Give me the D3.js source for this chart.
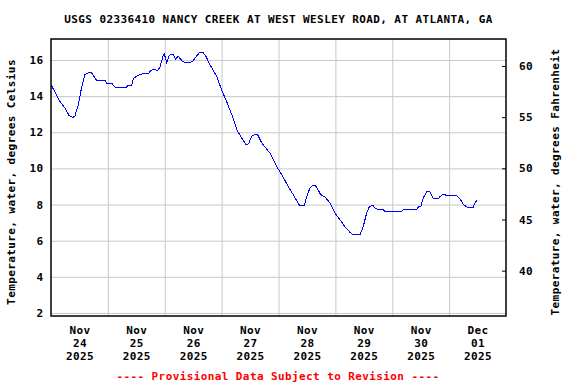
<!DOCTYPE html>
<html>
<head>
<meta charset="utf-8">
<script src="https://cdn.jsdelivr.net/npm/d3@7"></script>
<style>
  body { margin: 0; background: #fff; }
  text { font-family: "DejaVu Sans Mono", monospace; font-weight: bold; font-size: 11px; letter-spacing: 0.4px; }
</style>
</head>
<body>
<svg id="fig" width="576" height="384"></svg>
<script>
// readings: hours after 2025-11-24 00:00 and water temperature in deg C
const hoursAfterStart = [0, 3.8, 5.9, 7.7, 9.2, 10.1, 11.5, 13.0, 14.3, 16.2, 17.2, 18.6, 19.3, 22.8, 23.5, 25.6,
    27.0, 31.9, 32.6, 34.1, 34.7, 36.4, 38.9, 41.1, 41.8, 43.5, 44.9, 46.0, 47.4, 47.8, 48.8, 49.9,
    51.4, 52.6, 53.7, 55.6, 57.9, 59.8, 61.5, 62.9, 64.0, 65.4, 67.1, 69.9, 72.0, 74.1, 76.3, 78.4,
    80.5, 82.3, 83.3, 84.7, 86.1, 87.1, 88.9, 91.0, 92.4, 95.2, 97.4, 100.1, 102.2, 104.4, 105.1, 106.9,
    107.9, 109.3, 110.4, 111.4, 112.8, 113.8, 115.6, 117.7, 119.8, 121.9, 124.1, 126.2, 127.6, 130.4,
    131.8, 133.2, 134.3, 135.8, 136.7, 138.1, 140.2, 140.9, 148.0, 148.7, 154.3, 155.0, 156.0, 157.1,
    158.5, 159.9, 161.1, 162.0, 163.4, 164.2, 165.8, 167.0, 171.2, 172.6, 174.0, 176.1, 178.0, 178.9, 179.6];
const tempC = [14.63, 13.7, 13.34, 12.91, 12.82, 12.9, 13.52, 14.54, 15.18, 15.33, 15.28, 15.0, 14.87, 14.87, 14.72, 14.72,
    14.5, 14.5, 14.6, 14.6, 14.96, 15.13, 15.24, 15.24, 15.37, 15.5, 15.4, 15.6, 16.29, 16.34, 15.86, 16.25,
    16.33, 16.05, 16.2, 15.9, 15.83, 15.92, 16.23, 16.44, 16.44, 16.2, 15.73, 15.09, 14.35, 13.7, 12.97, 12.14,
    11.68, 11.31, 11.35, 11.77, 11.9, 11.88, 11.41, 11.07, 10.85, 10.11, 9.65, 9.0, 8.55, 8.05, 7.94, 7.94,
    8.45, 8.92, 9.08, 9.08, 8.79, 8.55, 8.42, 8.09, 7.54, 7.17, 6.76, 6.46, 6.32, 6.32,
    6.8, 7.54, 7.87, 7.96, 7.81, 7.72, 7.72, 7.61, 7.61, 7.72, 7.72, 7.87, 7.87, 8.37,
    8.71, 8.71, 8.37, 8.31, 8.31, 8.45, 8.59, 8.48, 8.48, 8.31, 8.0, 7.81, 7.81, 8.09, 8.22];

const celsiusTicks = [2, 4, 6, 8, 10, 12, 14, 16];
const fahrenheitTicks = [40, 45, 50, 55, 60];
const dayLabels = [["Nov", "24", "2025"], ["Nov", "25", "2025"], ["Nov", "26", "2025"], ["Nov", "27", "2025"],
    ["Nov", "28", "2025"], ["Nov", "29", "2025"], ["Nov", "30", "2025"], ["Dec", "01", "2025"]];

const start = new Date(2025, 10, 24);
const end = new Date(2025, 11, 2);
const data = hoursAfterStart.map((h, i) => ({ t: d3.timeMinute.offset(start, Math.round(h * 60)), v: tempC[i] }));

const plot = { left: 51, right: 506, top: 39, bottom: 316 };
const svg = d3.select('#fig');

const x = d3.scaleTime().domain([start, end]).range([plot.left, plot.right]);
const yC = d3.scaleLinear().domain([1.834, 17.16]).range([plot.bottom, plot.top]);
const yF = d3.scaleLinear().domain([35.57, 62.64]).range([plot.bottom, plot.top]);

const midnights = d3.timeDay.range(d3.timeDay.offset(start, 1), end);
const noons = d3.timeDay.range(start, end).map(d => d3.timeHour.offset(d, 12));

// vertical grid
svg.append('g')
    .attr('transform', `translate(0,${plot.bottom})`)
    .call(d3.axisBottom(x).tickValues(midnights).tickSize(-(plot.bottom - plot.top)).tickFormat(''))
    .call(g => g.select('.domain').remove())
    .call(g => g.selectAll('line').attr('stroke', '#c8c8c8'));

// left axis + horizontal grid
svg.append('g')
    .attr('transform', `translate(${plot.left},0)`)
    .call(d3.axisLeft(yC).tickValues(celsiusTicks).tickSize(-(plot.right - plot.left)).tickPadding(7.5).tickFormat(d3.format('d')))
    .call(g => g.select('.domain').remove())
    .call(g => g.selectAll('line').attr('stroke', '#c8c8c8'))
    .call(g => g.selectAll('text').attr('fill', '#000').attr('font-size', null));

// right axis, ticks inward
svg.append('g')
    .attr('transform', `translate(${plot.right},0)`)
    .call(d3.axisRight(yF).tickValues(fahrenheitTicks).tickSizeInner(-4).tickSizeOuter(0).tickPadding(13))
    .call(g => g.select('.domain').remove())
    .call(g => g.selectAll('line').attr('stroke', '#000'))
    .call(g => g.selectAll('text').attr('fill', '#000').attr('font-size', null));

// bottom labels, three lines per day
const bx = svg.append('g')
    .attr('transform', `translate(0,${plot.bottom})`)
    .call(d3.axisBottom(x).tickValues(noons).tickSize(0).tickFormat(''))
    .call(g => g.select('.domain').remove());
bx.selectAll('.tick text')
    .attr('font-size', null)
    .attr('fill', '#000')
    .attr('y', 0)
    .attr('dy', null)
    .each(function (d, i) {
        d3.select(this).selectAll('tspan').data(dayLabels[i]).enter().append('tspan')
            .attr('x', 0)
            .attr('y', (s, j) => 18 + j * 13)
            .text(s => s);
    });

// data line
svg.append('path')
    .datum(data)
    .attr('fill', 'none')
    .attr('stroke', '#0000ff')
    .attr('stroke-width', 1)
    .attr('shape-rendering', 'crispEdges')
    .attr('d', d3.line().x(d => x(d.t)).y(d => yC(d.v)));

// frame
svg.append('rect')
    .attr('x', plot.left).attr('y', plot.top)
    .attr('width', plot.right - plot.left).attr('height', plot.bottom - plot.top)
    .attr('fill', 'none').attr('stroke', '#000').attr('stroke-width', 1.5);

svg.append('text')
    .attr('x', (plot.left + plot.right) / 2).attr('y', 23)
    .attr('text-anchor', 'middle')
    .text('USGS 02336410 NANCY CREEK AT WEST WESLEY ROAD, AT ATLANTA, GA');

svg.append('text')
    .attr('transform', 'translate(15,182) rotate(-90)')
    .attr('text-anchor', 'middle')
    .text('Temperature, water, degrees Celsius');

svg.append('text')
    .attr('transform', 'translate(559,182) rotate(-90)')
    .attr('text-anchor', 'middle')
    .text('Temperature, water, degrees Fahrenheit');

svg.append('text')
    .attr('x', 278).attr('y', 380)
    .attr('text-anchor', 'middle')
    .attr('fill', '#ff0000')
    .text('---- Provisional Data Subject to Revision ----');
</script>
</body>
</html>
